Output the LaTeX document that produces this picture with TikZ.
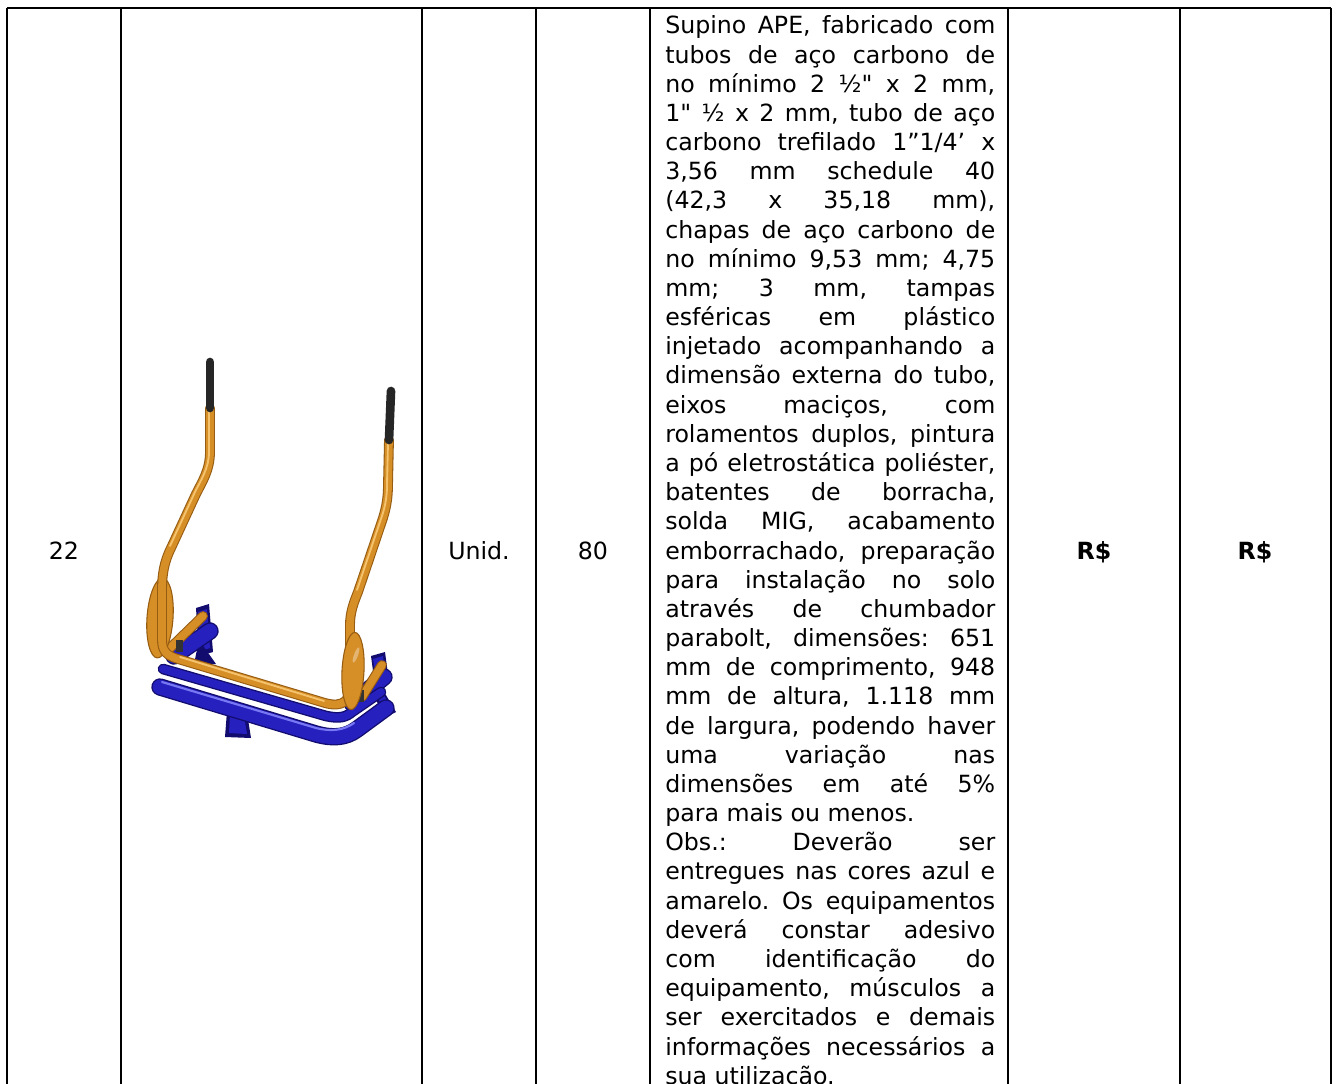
\documentclass[tikz,border=0pt]{standalone}
\usepackage{fontspec}
\setmainfont{DejaVu Sans}[Ligatures=TeXOff]
\usepackage{tikz}
\frenchspacing
\definecolor{laranja}{RGB}{214,142,38}
\definecolor{laranjaesc}{RGB}{150,92,18}
\definecolor{laranjacla}{RGB}{245,195,110}
\definecolor{azul}{RGB}{38,32,190}
\definecolor{azulesc}{RGB}{18,12,110}
\definecolor{azulcla}{RGB}{120,120,245}
\newcommand{\linha}[1]{\makebox[247.5pt][s]{#1}}

\begin{document}
\begin{tikzpicture}[x=0.75pt,y=0.75pt]
\tikzstyle{every node}+=[inner sep=0pt, font=\fontsize{17.75}{20}\selectfont]
\tikzstyle{grade}=[line width=1.5pt, black]
\tikzstyle{tuboesc}=[line width=7.4pt, laranjaesc, line cap=round, line join=round]
\tikzstyle{tubo}=[line width=5.8pt, laranja, line cap=round, line join=round]
\tikzstyle{brilho}=[line width=1.4pt, laranjacla, line cap=round, line join=round]
\tikzstyle{tuboazulesc}=[line width=13pt, azulesc, line cap=round, line join=round]
\tikzstyle{tuboazul}=[line width=11pt, azul, line cap=round, line join=round]
\tikzstyle{pega}=[line width=6.5pt, black!85, line cap=round]
\useasboundingbox (0,0) rectangle (1336,-1084);
\clip (0,0) rectangle (1336,-1084);
% grade da tabela
\draw [grade] (7,-8) -- (1331,-8);
\draw [grade] (7,-8) -- (7,-1084);
\draw [grade] (121,-8) -- (121,-1084);
\draw [grade] (422,-8) -- (422,-1084);
\draw [grade] (536,-8) -- (536,-1084);
\draw [grade] (650,-8) -- (650,-1084);
\draw [grade] (1008,-8) -- (1008,-1084);
\draw [grade] (1180,-8) -- (1180,-1084);
\draw [grade] (1331,-8) -- (1331,-1084);
% colunas curtas
\draw (64,-559) node [anchor=base] (item) {22};
\draw (479,-559) node [anchor=base] (unid) {Unid.};
\draw (593,-559) node [anchor=base] (qtd) {80};
\draw (1094,-559) node [anchor=base] (unit) {\bfseries R\$};
\draw (1255,-559) node [anchor=base] (total) {\bfseries R\$};
% aparelho: base azul
\fill [azulesc] (196,-608) -- (209,-604) -- (213,-652) -- (199,-656) -- cycle;
\fill [azul] (198,-612) -- (207,-609) -- (210,-648) -- (201,-651) -- cycle;
\fill [azulesc] (199,-640) -- (216,-664) -- (194,-664) -- cycle;
\fill [azulesc] (371,-656) -- (385,-652) -- (389,-682) -- (375,-686) -- cycle;
\fill [azul] (373,-659) -- (383,-656) -- (386,-679) -- (377,-682) -- cycle;
\fill [azulesc] (377,-680) -- (396,-712) -- (386,-717) -- (371,-692) -- cycle;
\fill [azul] (379,-686) -- (392,-710) -- (387,-713) -- (375,-694) -- cycle;
\fill [azulesc] (227,-711) -- (247,-713) -- (251,-738) -- (225,-737) -- cycle;
\fill [azul] (230,-714) -- (244,-716) -- (247,-734) -- (229,-733) -- cycle;
\draw [tuboazulesc] (174,-656) -- (210,-631);
\draw [tuboazul] (174,-656) -- (210,-631);
\draw [tuboazulesc] (352,-703) -- (384,-677);
\draw [tuboazul] (352,-703) -- (384,-677);
\draw [tuboazulesc] (160,-687) -- (316,-734) .. controls (334,-739) and (346,-737) .. (356,-730) -- (386,-708);
\draw [tuboazul] (160,-687) -- (316,-734) .. controls (334,-739) and (346,-737) .. (356,-730) -- (386,-708);
\draw [line width=1.6pt, azulcla, line cap=round] (162,-682) -- (316,-728) .. controls (332,-732) and (344,-730) .. (354,-723);
\draw [line width=8pt, azulesc, line cap=round, line join=round] (163,-669) -- (326,-716) .. controls (340,-719) and (346,-717) .. (352,-712) -- (381,-692);
\draw [line width=6pt, azul, line cap=round, line join=round] (163,-669) -- (326,-716) .. controls (340,-719) and (346,-717) .. (352,-712) -- (381,-692);
% travessas curtas
\draw [tuboesc] (168,-650) -- (203,-616);
\draw [tubo] (168,-650) -- (203,-616);
\draw [tuboesc] (362,-697) -- (382,-665);
\draw [tubo] (362,-697) -- (382,-665);
\fill [black!80] (176,-640) rectangle (183,-652);
\fill [black!80] (358,-690) rectangle (364,-702);
% disco esquerdo
\filldraw [fill=laranja, draw=laranjaesc, line width=0.8pt, rotate around={-4:(160,-618)}] (160,-618) ellipse [x radius=9.75pt, y radius=30pt];
% armacao laranja
\draw [tuboesc] (210,-408) -- (210,-452) .. controls (210,-470) and (202,-482) .. (196,-494) -- (171,-548) .. controls (164,-562) and (162,-575) .. (162,-590) -- (162,-640) .. controls (162,-652) and (168,-656) .. (178,-659) -- (325,-703) .. controls (343,-708) and (350,-700) .. (350,-688) -- (350,-625) .. controls (350,-612) and (354,-602) .. (358,-592) -- (383,-518) .. controls (387,-505) and (388,-495) .. (388,-485) -- (389,-440);
\draw [tubo] (210,-408) -- (210,-452) .. controls (210,-470) and (202,-482) .. (196,-494) -- (171,-548) .. controls (164,-562) and (162,-575) .. (162,-590) -- (162,-640) .. controls (162,-652) and (168,-656) .. (178,-659) -- (325,-703) .. controls (343,-708) and (350,-700) .. (350,-688) -- (350,-625) .. controls (350,-612) and (354,-602) .. (358,-592) -- (383,-518) .. controls (387,-505) and (388,-495) .. (388,-485) -- (389,-440);
\draw [brilho] (209,-410) -- (209,-452) .. controls (209,-468) and (201,-480) .. (195,-492) -- (170,-546);
\draw [brilho] (180,-657) -- (324,-701);
\draw [brilho] (357,-590) -- (382,-516) .. controls (386,-504) and (387,-494) .. (387,-485) -- (388,-442);
% pegadores
\draw [pega] (210,-362) -- (210,-408);
\draw [pega] (391,-391) -- (389,-440);
% disco direito
\filldraw [fill=laranja, draw=laranjaesc, line width=0.8pt, rotate around={-3:(353,-671)}] (353,-671) ellipse [x radius=8.25pt, y radius=29pt];
\fill [white, opacity=0.35, rotate around={-20:(356,-655)}] (356,-655) ellipse [x radius=1.5pt, y radius=6pt];
% descricao
\draw (665,-34.0) node [anchor=base west] (lin1) {\linha{Supino APE, fabricado com}};
\draw (665,-63.2) node [anchor=base west] (lin2) {\linha{tubos de aço carbono de}};
\draw (665,-92.3) node [anchor=base west] (lin3) {\linha{no mínimo 2 ½" x 2 mm,}};
\draw (665,-121.5) node [anchor=base west] (lin4) {\linha{1" ½ x 2 mm, tubo de aço}};
\draw (665,-150.7) node [anchor=base west] (lin5) {\linha{carbono trefilado 1”1/4’ x}};
\draw (665,-179.9) node [anchor=base west] (lin6) {\linha{3,56 mm schedule 40}};
\draw (665,-209.0) node [anchor=base west] (lin7) {\linha{(42,3 x 35,18 mm),}};
\draw (665,-238.2) node [anchor=base west] (lin8) {\linha{chapas de aço carbono de}};
\draw (665,-267.4) node [anchor=base west] (lin9) {\linha{no mínimo 9,53 mm; 4,75}};
\draw (665,-296.5) node [anchor=base west] (lin10) {\linha{mm; 3 mm, tampas}};
\draw (665,-325.7) node [anchor=base west] (lin11) {\linha{esféricas em plástico}};
\draw (665,-354.9) node [anchor=base west] (lin12) {\linha{injetado acompanhando a}};
\draw (665,-384.0) node [anchor=base west] (lin13) {\linha{dimensão externa do tubo,}};
\draw (665,-413.2) node [anchor=base west] (lin14) {\linha{eixos maciços, com}};
\draw (665,-442.4) node [anchor=base west] (lin15) {\linha{rolamentos duplos, pintura}};
\draw (665,-471.6) node [anchor=base west] (lin16) {\linha{a pó eletrostática poliéster,}};
\draw (665,-500.7) node [anchor=base west] (lin17) {\linha{batentes de borracha,}};
\draw (665,-529.9) node [anchor=base west] (lin18) {\linha{solda MIG, acabamento}};
\draw (665,-559.1) node [anchor=base west] (lin19) {\linha{emborrachado, preparação}};
\draw (665,-588.2) node [anchor=base west] (lin20) {\linha{para instalação no solo}};
\draw (665,-617.4) node [anchor=base west] (lin21) {\linha{através de chumbador}};
\draw (665,-646.6) node [anchor=base west] (lin22) {\linha{parabolt, dimensões: 651}};
\draw (665,-675.7) node [anchor=base west] (lin23) {\linha{mm de comprimento, 948}};
\draw (665,-704.9) node [anchor=base west] (lin24) {\linha{mm de altura, 1.118 mm}};
\draw (665,-734.1) node [anchor=base west] (lin25) {\linha{de largura, podendo haver}};
\draw (665,-763.3) node [anchor=base west] (lin26) {\linha{uma variação nas}};
\draw (665,-792.4) node [anchor=base west] (lin27) {\linha{dimensões em até 5\%}};
\draw (665,-821.6) node [anchor=base west] (lin28) {para mais ou menos.};
\draw (665,-850.8) node [anchor=base west] (lin29) {\linha{Obs.: Deverão ser}};
\draw (665,-879.9) node [anchor=base west] (lin30) {\linha{entregues nas cores azul e}};
\draw (665,-909.1) node [anchor=base west] (lin31) {\linha{amarelo. Os equipamentos}};
\draw (665,-938.3) node [anchor=base west] (lin32) {\linha{deverá constar adesivo}};
\draw (665,-967.4) node [anchor=base west] (lin33) {\linha{com identificação do}};
\draw (665,-996.6) node [anchor=base west] (lin34) {\linha{equipamento, músculos a}};
\draw (665,-1025.8) node [anchor=base west] (lin35) {\linha{ser exercitados e demais}};
\draw (665,-1055.0) node [anchor=base west] (lin36) {\linha{informações necessários a}};
\draw (665,-1084.1) node [anchor=base west] (lin37) {sua utilização.};
\end{tikzpicture}
\end{document}
